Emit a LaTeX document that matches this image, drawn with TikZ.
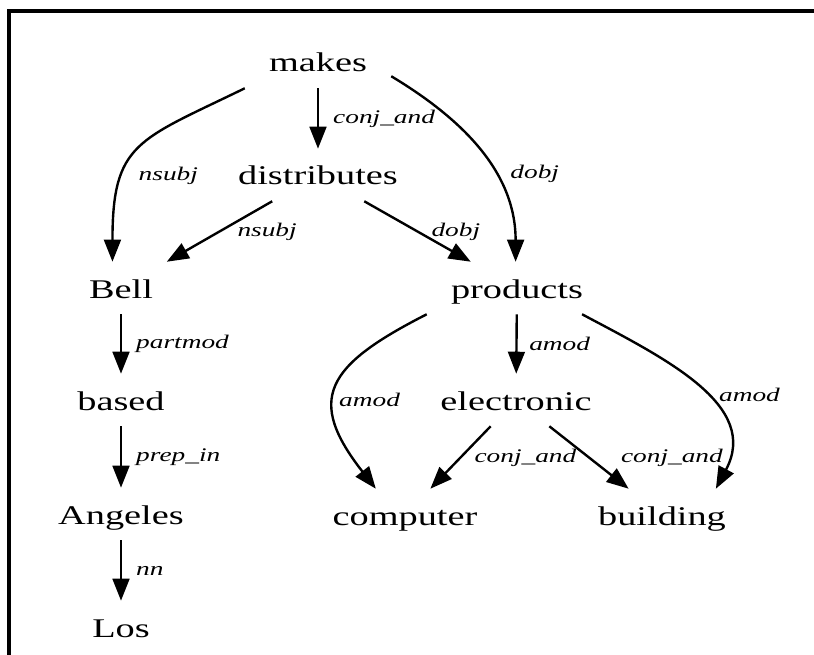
\documentclass[tikz,border=0pt]{standalone}
\usepackage{fontspec}
\setmainfont{Liberation Serif}[FakeStretch=1.42]
\usetikzlibrary{arrows.meta}

\begin{document}
\begin{tikzpicture}[
    word/.style={inner xsep=0.6cm, inner ysep=0pt, minimum height=1.3cm,
      text height=0.5cm, text depth=0pt, font=\fontsize{19.2}{19.2}\selectfont},
    dep/.style={font=\itshape\fontsize{13.7}{13.7}\selectfont, inner sep=2pt},
    every edge/.style={draw, line width=1.7pt, -{Triangle[length=0.55cm,width=0.42cm]}}
  ]
  \useasboundingbox (0,0) rectangle (20.35,-16.375);
  \draw[line width=2.2pt] (0.225,-16.375) -- (0.225,-0.275) -- (20.35,-0.275);

  \node[word] (makes)       at (7.95,-1.55)    {makes};
  \node[word] (distributes) at (7.95,-4.375)   {distributes};
  \node[word] (Bell)        at (3.025,-7.2)    {Bell};
  \node[word] (products)    at (12.925,-7.2)   {products};
  \node[word] (based)       at (3.025,-10.0)   {based};
  \node[word] (electronic)  at (12.9,-10.0)    {electronic};
  \node[word] (Angeles)     at (3.025,-12.85)  {Angeles};
  \node[word] (computer)    at (10.125,-12.875) {computer};
  \node[word] (building)    at (16.55,-12.875) {building};
  \node[word] (Los)         at (3.025,-15.675) {Los};

  \path
    (makes) edge node[dep, right=0.28cm] {conj\_and} (distributes)
    (makes.south west) edge[out=206, in=90, looseness=1.4]
        node[dep, pos=0.67, right=0.3cm] {nsubj} (Bell.108)
    (makes.-11) edge[out=-31, in=90]
        node[dep, pos=0.61, right=0.3cm] {dobj} (products.93)
    (distributes) edge node[dep, right=0.35cm] {nsubj} (Bell)
                  edge node[dep, right=0.25cm] {dobj} (products)
    (Bell) edge node[dep, right=0.28cm] {partmod} (based)
    (based) edge node[dep, right=0.28cm] {prep\_in} (Angeles)
    (Angeles) edge node[dep, right=0.28cm] {nn} (Los)
    (products) edge node[dep, right=0.22cm] {amod} (electronic)
    (products.south west) edge[out=207, in=128, looseness=1.6]
        node[dep, pos=0.58, right=0.02cm] {amod} (computer.138)
    (products.-22) edge[out=-28, in=62, looseness=1.1]
        node[dep, pos=0.55, right=0.25cm] {amod} (building.26)
    (electronic) edge node[dep, right=0.25cm] {conj\_and} (computer)
                 edge node[dep, right=0.7cm] {conj\_and} (building);
\end{tikzpicture}
\end{document}
